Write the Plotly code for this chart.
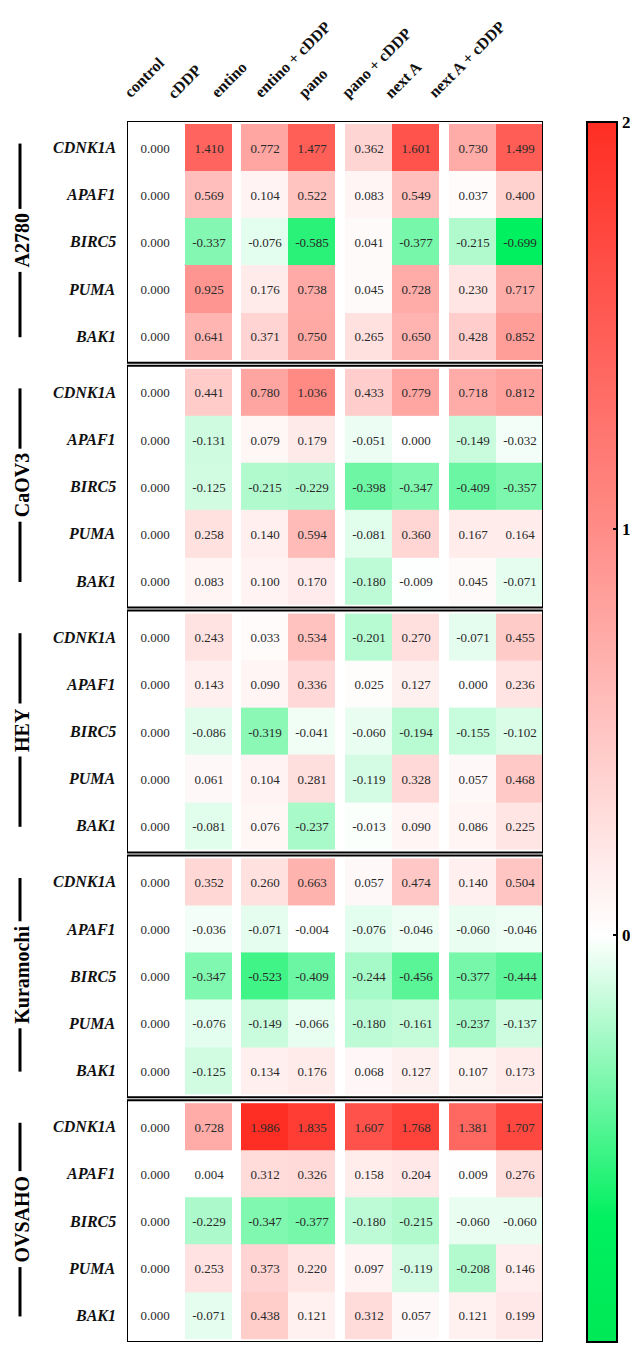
import plotly.graph_objects as go

# ---------------- data ----------------
treatments = ["control", "cDDP", "entino", "entino + cDDP", "pano", "pano + cDDP", "next A", "next A + cDDP"]
genes = ["CDNK1A", "APAF1", "BIRC5", "PUMA", "BAK1"]
cell_lines = ["A2780", "CaOV3", "HEY", "Kuramochi", "OVSAHO"]

a2780 = [
    [0.000, 1.410, 0.772, 1.477, 0.362, 1.601, 0.730, 1.499],
    [0.000, 0.569, 0.104, 0.522, 0.083, 0.549, 0.037, 0.400],
    [0.000, -0.337, -0.076, -0.585, 0.041, -0.377, -0.215, -0.699],
    [0.000, 0.925, 0.176, 0.738, 0.045, 0.728, 0.230, 0.717],
    [0.000, 0.641, 0.371, 0.750, 0.265, 0.650, 0.428, 0.852],
]
caov3 = [
    [0.000, 0.441, 0.780, 1.036, 0.433, 0.779, 0.718, 0.812],
    [0.000, -0.131, 0.079, 0.179, -0.051, 0.000, -0.149, -0.032],
    [0.000, -0.125, -0.215, -0.229, -0.398, -0.347, -0.409, -0.357],
    [0.000, 0.258, 0.140, 0.594, -0.081, 0.360, 0.167, 0.164],
    [0.000, 0.083, 0.100, 0.170, -0.180, -0.009, 0.045, -0.071],
]
hey = [
    [0.000, 0.243, 0.033, 0.534, -0.201, 0.270, -0.071, 0.455],
    [0.000, 0.143, 0.090, 0.336, 0.025, 0.127, 0.000, 0.236],
    [0.000, -0.086, -0.319, -0.041, -0.060, -0.194, -0.155, -0.102],
    [0.000, 0.061, 0.104, 0.281, -0.119, 0.328, 0.057, 0.468],
    [0.000, -0.081, 0.076, -0.237, -0.013, 0.090, 0.086, 0.225],
]
kuramochi = [
    [0.000, 0.352, 0.260, 0.663, 0.057, 0.474, 0.140, 0.504],
    [0.000, -0.036, -0.071, -0.004, -0.076, -0.046, -0.060, -0.046],
    [0.000, -0.347, -0.523, -0.409, -0.244, -0.456, -0.377, -0.444],
    [0.000, -0.076, -0.149, -0.066, -0.180, -0.161, -0.237, -0.137],
    [0.000, -0.125, 0.134, 0.176, 0.068, 0.127, 0.107, 0.173],
]
ovsaho = [
    [0.000, 0.728, 1.986, 1.835, 1.607, 1.768, 1.381, 1.707],
    [0.000, 0.004, 0.312, 0.326, 0.158, 0.204, 0.009, 0.276],
    [0.000, -0.229, -0.347, -0.377, -0.180, -0.215, -0.060, -0.060],
    [0.000, 0.253, 0.373, 0.220, 0.097, -0.119, -0.208, 0.146],
    [0.000, -0.071, 0.438, 0.121, 0.312, 0.057, 0.121, 0.199],
]
group_values = [a2780, caov3, hey, kuramochi, ovsaho]
cbar_ticks = [-1, 0, 1, 2]
cmin, cmax = -1, 2

# ---------------- layout constants (pixels) ----------------
OFF = 8                   # page body margin
W, H = 638 - OFF, 1348 - OFF
PLOT_L, PLOT_R, PLOT_T, PLOT_B = 127, 543, 121, 1342   # in page pixels
ML = PLOT_L - OFF
MT = PLOT_T - OFF
MR = (W + OFF) - PLOT_R
MB = (H + OFF) - PLOT_B
PW = PLOT_R - PLOT_L
PH = PLOT_B - PLOT_T

CB_L, CB_W, CB_T, CB_LEN = 587, 30, 122, 1220


def px_x(px):
    return (px - PLOT_L) / PW


def px_y(py):
    return 1 - (py - PLOT_T) / PH


blocks = [[0], [1], [2, 3], [4, 5], [6, 7]]
col_w = 47
ctrl_w = 56
gaps = [2, 9, 10, 10]

x_edges = [0.0]
col_slots = []
for bi, blk in enumerate(blocks):
    for ci in blk:
        w = ctrl_w if ci == 0 else col_w
        x_edges.append(x_edges[-1] + w)
        col_slots.append(ci)
    if bi < len(gaps):
        x_edges.append(x_edges[-1] + gaps[bi])
        col_slots.append(None)
x_scale = PW / x_edges[-1]
x_edges = [e * x_scale for e in x_edges]

sep = 3.0
box_h = (PH - 4 * sep) / 5
pad = 3.0
row_h = (box_h - 2 * pad) / 5

font_serif = "Liberation Serif"

fig = go.Figure()
shapes = []
annotations = []

colorscale = [
    [0.0, "rgb(0,232,85)"],
    [0.1, "rgb(0,240,95)"],
    [1 / 3, "rgb(255,255,255)"],
    [2 / 3, "rgb(255,140,135)"],
    [1.0, "rgb(255,45,35)"],
]

for g, vals in enumerate(group_values):
    top = g * (box_h + sep)
    y_edges = [top + pad + r * row_h for r in range(len(genes) + 1)]
    z, txt = [], []
    for r in range(len(genes)):
        zr, tr = [], []
        for slot in col_slots:
            if slot is None:
                zr.append(None)
                tr.append("")
            else:
                v = vals[r][slot]
                zr.append(v)
                tr.append(f"{v:.3f}")
        z.append(zr)
        txt.append(tr)
    fig.add_trace(go.Heatmap(
        z=z, x=x_edges, y=y_edges, text=txt, texttemplate="%{text}",
        textfont=dict(family=font_serif, size=13, color="#2a2a2a"),
        coloraxis="coloraxis", hoverinfo="skip", xgap=0, ygap=0,
    ))
    shapes.append(dict(type="rect", xref="x", yref="y", x0=0, x1=PW,
                       y0=top, y1=top + box_h, line=dict(color="black", width=2),
                       layer="above"))
    for r, gname in enumerate(genes):
        yc = PLOT_T + (y_edges[r] + y_edges[r + 1]) / 2
        annotations.append(dict(
            x=px_x(118), y=px_y(yc), xref="paper", yref="paper", text=gname,
            showarrow=False, xanchor="right", yanchor="middle",
            font=dict(family=font_serif, size=16, color="#111111",
                      style="italic", weight="bold")))
    y_first = PLOT_T + (y_edges[0] + y_edges[1]) / 2 - 4
    y_last = PLOT_T + (y_edges[-2] + y_edges[-1]) / 2 + 1
    shapes.append(dict(type="line", xref="paper", yref="paper",
                       x0=px_x(20), x1=px_x(20), y0=px_y(y_first), y1=px_y(y_last),
                       line=dict(color="black", width=3)))
    annotations.append(dict(
        x=px_x(22), y=px_y((y_first + y_last) / 2), xref="paper", yref="paper",
        text=cell_lines[g], showarrow=False, textangle=-90, bgcolor="white",
        borderpad=4, xanchor="center", yanchor="middle",
        font=dict(family=font_serif, size=20, color="black", weight="bold")))

for i, t in enumerate(treatments):
    annotations.append(dict(
        x=px_x(118 + 43.5 * i), y=px_y(104), xref="paper", yref="paper", text=t,
        showarrow=False, textangle=-45, xanchor="left", yanchor="bottom",
        font=dict(family=font_serif, size=16, color="#111111", weight="bold")))

# tick marks on the left inner edge of the colour bar
for v in cbar_ticks[1:-1]:
    ty = CB_T + (cmax - v) / (cmax - cmin) * CB_LEN
    shapes.append(dict(type="line", xref="paper", yref="paper",
                       x0=px_x(CB_L), x1=px_x(CB_L + 5), y0=px_y(ty), y1=px_y(ty),
                       line=dict(color="black", width=2)))

fig.update_layout(
    width=W, height=H, autosize=False,
    margin=dict(l=ML, r=MR, t=MT, b=MB, pad=0, autoexpand=False),
    paper_bgcolor="white", plot_bgcolor="white",
    xaxis=dict(range=[0, PW], visible=False, fixedrange=True),
    yaxis=dict(range=[PH, 0], visible=False, fixedrange=True),
    coloraxis=dict(
        cmin=cmin, cmax=cmax, colorscale=colorscale,
        colorbar=dict(
            x=px_x(CB_L), xanchor="left", xref="paper",
            y=px_y(CB_T + CB_LEN / 2), yanchor="middle", lenmode="pixels", len=CB_LEN,
            thicknessmode="pixels", thickness=CB_W, xpad=0, ypad=0,
            outlinewidth=2, outlinecolor="black",
            tickvals=cbar_ticks, ticktext=[str(v) for v in cbar_ticks],
            ticks="inside", ticklen=5, tickwidth=2, tickcolor="black",
            tickfont=dict(family=font_serif, size=17, color="black", weight="bold"),
        ),
    ),
    shapes=shapes, annotations=annotations, showlegend=False,
)

fig.write_html("out.html")
